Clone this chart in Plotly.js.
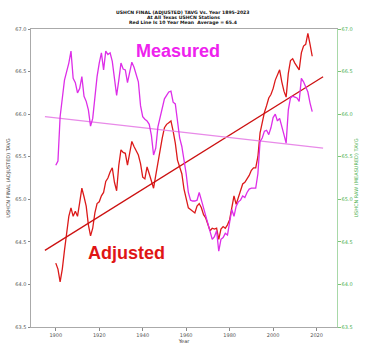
<!DOCTYPE html>
<html>
<head>
<meta charset="utf-8">
<script src="https://cdn.plot.ly/plotly-3.0.1.min.js"></script>
<style>html,body{margin:0;padding:0;background:#fff;}#chart{width:367px;height:353px;}</style>
</head>
<body>
<div id="chart"></div>
<script>
// Years of the centered 10-year mean
const startYear = 1900;
const measured = [
65.40,65.45,65.97,66.22,66.40,66.50,66.60,66.74,66.42,66.37,
66.25,66.30,66.44,66.21,66.15,66.05,65.86,65.95,66.20,66.44,
66.60,66.72,66.52,66.74,66.70,66.72,66.62,66.40,66.22,66.40,
66.60,66.53,66.52,66.37,66.50,66.61,66.55,66.46,66.38,66.10,
65.97,65.94,65.92,65.88,65.75,65.52,65.60,65.85,65.97,66.10,
66.18,66.22,66.26,66.27,66.14,66.12,65.90,65.72,65.62,65.48,
65.30,65.08,64.99,64.98,64.98,64.99,65.08,64.99,64.90,64.80,
64.74,64.62,64.53,64.56,64.63,64.39,64.53,64.55,64.60,64.58,
64.74,64.88,64.80,64.92,64.97,64.99,65.04,65.02,65.08,65.12,
65.13,65.13,65.13,65.30,65.68,65.72,65.80,65.81,65.76,65.84,
65.96,66.00,65.92,65.95,65.84,65.76,65.66,66.05,66.19,66.21,
66.20,66.19,66.15,66.42,66.38,66.32,66.26,66.13,66.03];
const adjusted = [
64.25,64.18,64.03,64.18,64.40,64.62,64.80,64.90,64.80,64.86,
64.80,64.96,65.13,65.03,64.92,64.70,64.57,64.66,64.84,64.95,
64.97,65.04,65.08,65.21,65.25,65.32,65.37,65.20,65.10,65.40,
65.58,65.55,65.54,65.40,65.52,65.68,65.62,65.57,65.52,65.42,
65.26,65.24,65.38,65.30,65.20,65.13,65.28,65.44,65.56,65.72,
65.84,65.88,65.90,65.92,65.80,65.66,65.46,65.38,65.30,65.12,
65.02,64.90,64.88,64.86,64.84,64.92,64.95,64.90,64.82,64.78,
64.70,64.63,64.66,64.65,64.66,64.53,64.65,64.68,64.66,64.70,
64.76,64.90,65.04,64.94,65.02,65.11,65.18,65.20,65.24,65.28,
65.34,65.37,65.37,65.50,65.78,65.92,66.02,66.10,66.19,66.23,
66.30,66.40,66.47,66.52,66.38,66.27,66.20,66.48,66.63,66.65,
66.60,66.56,66.52,66.72,66.80,66.82,66.95,66.82,66.68];
const years = measured.map((_, i) => startYear + i);

// Trend lines over full record
const trendYears = [1895, 2023];
const adjustedTrend = [64.40, 66.44];
const measuredTrend = [65.97, 65.60];

const xTicks = [1900, 1920, 1940, 1960, 1980, 2000, 2020];
const yTicks = [63.5, 64.0, 64.5, 65.0, 65.5, 66.0, 66.5, 67.0];

const titleLines = [
  "USHCN FINAL (ADJUSTED) TAVG Vs. Year 1895-2023",
  "At All Texas USHCN Stations",
  "Red Line Is 10 Year Mean  Average = 65.4"
];

const traces = [
  {x: trendYears, y: measuredTrend, mode: 'lines', line: {color: '#e88ae8', width: 1.2}, yaxis: 'y2', hoverinfo: 'skip'},
  {x: years, y: measured, mode: 'lines', line: {color: '#dd2ee8', width: 1.3}, yaxis: 'y2'},
  {x: years, y: adjusted, mode: 'lines', line: {color: '#dc1a1a', width: 1.3}},
  {x: trendYears, y: adjustedTrend, mode: 'lines', line: {color: '#cc1111', width: 1.3}, hoverinfo: 'skip'}
];

const tickFont = {family: 'DejaVu Sans', size: 5, color: '#555'};
const titleY = [1.0537, 1.039, 1.0222];
const annotations = titleLines.map((t, i) => ({
  text: '<b>' + t + '</b>', xref: 'paper', yref: 'paper', x: 0.497, y: titleY[i],
  xanchor: 'center', yanchor: 'middle', showarrow: false,
  font: {family: 'DejaVu Sans', size: 4.6, color: '#111'}
}));
annotations.push({text: '<b>Measured</b>', xref: 'paper', yref: 'paper', x: 0.479, y: 0.925,
  xanchor: 'center', yanchor: 'middle', showarrow: false,
  font: {family: 'Liberation Sans', size: 18, color: '#ee22ee'}});
annotations.push({text: '<b>Adjusted</b>', xref: 'paper', yref: 'paper', x: 0.311, y: 0.250,
  xanchor: 'center', yanchor: 'middle', showarrow: false,
  font: {family: 'Liberation Sans', size: 18, color: '#e01515'}});

const layout = {
  width: 367, height: 353,
  margin: {l: 31, r: 30.3, t: 29.3, b: 26, pad: 0},
  paper_bgcolor: '#fff', plot_bgcolor: '#fff',
  showlegend: false,
  xaxis: {
    range: [1888.6, 2029.4], tickvals: xTicks, ticktext: xTicks.map(String),
    showgrid: false, zeroline: false, showline: true, mirror: true,
    linecolor: '#aaaaaa', linewidth: 1, ticks: 'outside', ticklen: 2.5, tickcolor: '#888',
    tickfont: tickFont,
    title: {text: 'Year', font: {family: 'DejaVu Sans', size: 5, color: '#333'}, standoff: 0}
  },
  yaxis: {
    range: [63.5, 67.0], tickvals: yTicks, ticktext: yTicks.map(v => v.toFixed(1)),
    showgrid: false, zeroline: false, showline: true, linecolor: '#aaaaaa', linewidth: 1,
    ticks: 'outside', ticklen: 2.5, tickcolor: '#888', tickfont: tickFont,
    title: {text: 'USHCN FINAL (ADJUSTED) TAVG', font: {family: 'DejaVu Sans', size: 5, color: '#444'}, standoff: 4}
  },
  yaxis2: {
    range: [63.5, 67.0], tickvals: yTicks, ticktext: yTicks.map(v => v.toFixed(1)),
    overlaying: 'y', side: 'right', showgrid: false, zeroline: false,
    showline: true, linecolor: '#a8d8a8', linewidth: 1,
    ticks: 'outside', ticklen: 2.5, tickcolor: '#7cc47c',
    tickfont: {family: 'DejaVu Sans', size: 5, color: '#4caf50'},
    title: {text: 'USHCN RAW (MEASURED) TAVG', font: {family: 'DejaVu Sans', size: 5, color: '#4caf50'}, standoff: 2}
  },
  annotations: annotations
};

Plotly.newPlot('chart', traces, layout, {staticPlot: true, displayModeBar: false});
</script>
</body>
</html>
